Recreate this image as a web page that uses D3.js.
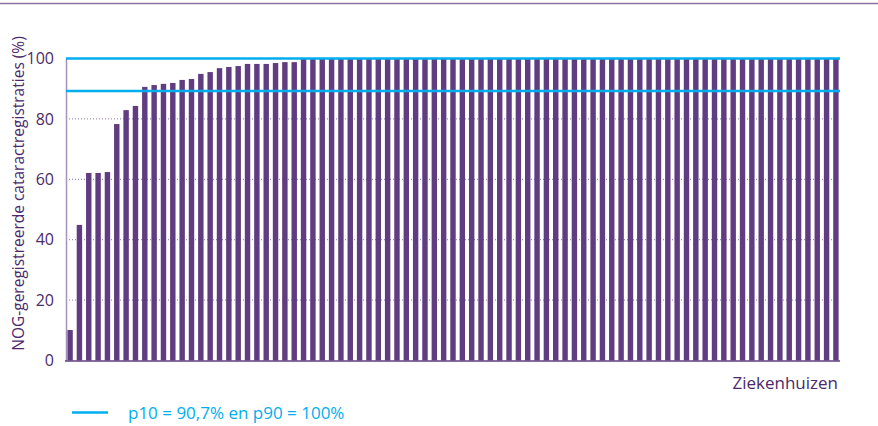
<!DOCTYPE html>
<html lang="nl">
<head>
<meta charset="UTF-8">
<title>NOG-geregistreerde cataractregistraties</title>
<style>
    body { margin: 0; background: #fff; }
    svg { display: block; font-family: "Open Sans", "Noto Sans", sans-serif; }
</style>
</head>
<body>
<script src="https://cdn.jsdelivr.net/npm/d3@7"></script>
<script>
    // waarden per ziekenhuis (%), gesorteerd
    const eersteWaarden = [10.1, 44.9, 62.1, 62.1, 62.4, 78.3, 82.9, 84.3, 90.6, 91.2,
        91.6, 91.9, 92.9, 93.2, 94.9, 95.5, 96.8, 97.2, 97.5, 98.2,
        98.2, 98.2, 98.5, 98.8, 98.8];
    const volledig = [100, 100, 100, 100, 100, 100, 100, 100, 100, 100,
        100, 100, 100, 100, 100, 100, 100, 100, 100, 100,
        100, 100, 100, 100, 100, 100, 100, 100, 100, 100,
        100, 100, 100, 100, 100, 100, 100, 100, 100, 100,
        100, 100, 100, 100, 100, 100, 100, 100, 100, 100,
        100, 100, 100, 100, 100, 100, 100, 100];
    const waarden = eersteWaarden.concat(volledig);
    const ziekenhuizen = waarden.map((d, i) => "Z" + (i + 1));

    const yTicks = [0, 20, 40, 60, 80, 100];
    const percentielLijnen = [100, 89.2];
    const legendaTekst = "p10 = 90,7% en p90 = 100%";

    const breedte = 878, hoogte = 426;
    const paars = "#603c80", tekstKleur = "#4b2a6c", blauw = "#00aeef";

    const svg = d3.select("body").append("svg")
        .attr("width", breedte)
        .attr("height", hoogte);

    // lijn bovenaan
    svg.append("line")
        .attr("x1", 0).attr("x2", breedte)
        .attr("y1", 3.5).attr("y2", 3.5)
        .attr("stroke", "#8a70a4").attr("stroke-width", 1.5);

    const x = d3.scaleBand()
        .domain(ziekenhuizen)
        .range([65.5, 840.5])
        .paddingInner(0.42)
        .paddingOuter(0.2);

    const y = d3.scaleLinear()
        .domain([0, 100])
        .range([360.5, 58.5]);

    // gestippelde rasterlijnen
    svg.append("g").selectAll("line")
        .data(yTicks.filter(d => d > 0 && d < 100))
        .enter().append("line")
        .attr("x1", 66).attr("x2", 840)
        .attr("y1", d => y(d)).attr("y2", d => y(d))
        .attr("stroke", "#8a74a6")
        .attr("stroke-width", 1)
        .attr("stroke-dasharray", "1,2");

    // staven
    svg.append("g").selectAll("rect")
        .data(waarden)
        .enter().append("rect")
        .attr("x", (d, i) => x(ziekenhuizen[i]))
        .attr("width", x.bandwidth())
        .attr("y", d => y(d))
        .attr("height", d => y(0) - y(d))
        .attr("fill", paars);

    // y-as
    const yAs = d3.axisLeft(y).tickValues(yTicks).tickSize(0).tickPadding(12);
    const gy = svg.append("g")
        .attr("transform", "translate(66,0)")
        .call(yAs);
    gy.select(".domain").attr("stroke", "#a593ba").attr("stroke-width", 1.5);
    gy.selectAll("text")
        .attr("fill", tekstKleur)
        .attr("font-size", 16)
        .attr("font-family", "'Open Sans', 'Noto Sans', sans-serif");

    // x-as
    svg.append("line")
        .attr("x1", 65).attr("x2", 840)
        .attr("y1", 361).attr("y2", 361)
        .attr("stroke", paars).attr("stroke-width", 1.5);

    // percentiellijnen
    svg.append("g").selectAll("line")
        .data(percentielLijnen)
        .enter().append("line")
        .attr("x1", 66).attr("x2", 840)
        .attr("y1", d => y(d)).attr("y2", d => y(d))
        .attr("stroke", blauw)
        .attr("stroke-width", 2.5);

    // as-titels
    svg.append("text")
        .attr("transform", "translate(24,193.5) rotate(-90)")
        .attr("text-anchor", "middle")
        .attr("fill", tekstKleur)
        .attr("font-size", 15.5)
        .text("NOG-geregistreerde cataractregistraties (%)");

    svg.append("text")
        .attr("x", 838).attr("y", 389)
        .attr("text-anchor", "end")
        .attr("fill", tekstKleur)
        .attr("font-size", 17)
        .text("Ziekenhuizen");

    // legenda
    svg.append("line")
        .attr("x1", 72).attr("x2", 108)
        .attr("y1", 412.5).attr("y2", 412.5)
        .attr("stroke", blauw).attr("stroke-width", 2.5);

    svg.append("text")
        .attr("x", 128).attr("y", 419)
        .attr("fill", blauw)
        .attr("font-size", 17)
        .text(legendaTekst);
</script>
</body>
</html>
